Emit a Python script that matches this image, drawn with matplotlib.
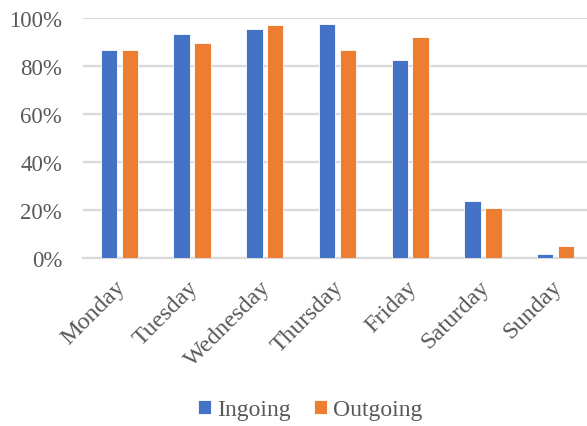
import matplotlib
matplotlib.use("Agg")
import matplotlib.pyplot as plt
import matplotlib.transforms as mtransforms
import numpy as np
from matplotlib.ticker import PercentFormatter

days = ["Monday", "Tuesday", "Wednesday", "Thursday", "Friday", "Saturday", "Sunday"]
ingoing = [86.9, 93.6, 95.7, 97.8, 82.5, 23.7, 1.8]
outgoing = [86.8, 89.6, 97.3, 86.7, 92.1, 20.8, 5.0]

blue = "#4472C4"
orange = "#ED7D31"
grid_c = "#D9D9D9"
text_c = "#595959"

plt.rcParams["font.family"] = ["Liberation Serif", "DejaVu Serif"]

fig = plt.figure(figsize=(5.87, 4.27), dpi=100)
ax = fig.add_axes([83 / 587, 1 - 259.3 / 427, 509 / 587, 240 / 427])

x = np.arange(len(days))
w = 0.225
off = 0.143
ax.bar(x - off, ingoing, width=w, color=blue, edgecolor="white", linewidth=0.6,
       label="Ingoing", zorder=3)
ax.bar(x + off, outgoing, width=w, color=orange, edgecolor="white", linewidth=0.6,
       label="Outgoing", zorder=3)

ax.set_xlim(-0.5, len(days) - 0.5)
ax.set_ylim(0, 100)
ax.set_yticks(np.arange(0, 101, 20))
ax.yaxis.set_major_formatter(PercentFormatter(decimals=0))
ax.grid(axis="y", color=grid_c, linewidth=1.6, zorder=0)
ax.set_axisbelow(True)
for s in ["top", "right", "left"]:
    ax.spines[s].set_visible(False)
ax.spines["bottom"].set_color(grid_c)
ax.spines["bottom"].set_linewidth(1.6)

ax.tick_params(axis="y", length=0, pad=15, labelsize=16.5, labelcolor=text_c)
ax.tick_params(axis="x", length=0, pad=18, labelsize=17.5, labelcolor=text_c)
ax.set_xticks(x)
ax.set_xticklabels(days, rotation=45, ha="right", va="center", rotation_mode="anchor")
shift = mtransforms.ScaledTranslation(3 / 100, 0, fig.dpi_scale_trans)
for lbl in ax.get_xticklabels():
    lbl.set_transform(lbl.get_transform() + shift)

fig.legend(loc="center", bbox_to_anchor=(310 / 587, 1 - 411 / 427), ncol=2, frameon=False,
           fontsize=17, labelcolor=text_c, handlelength=0.55, handleheight=0.55,
           handletextpad=0.25, columnspacing=1.0)

fig.savefig("out.png", dpi=100)
